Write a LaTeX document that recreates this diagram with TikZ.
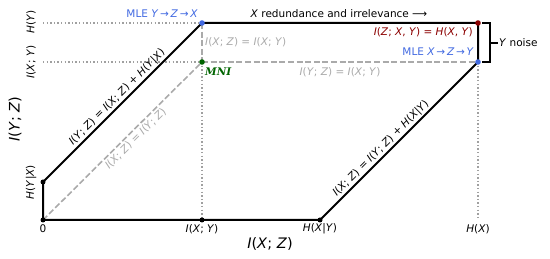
\documentclass[tikz,border=0pt]{standalone}
\usepackage{fontspec}
\setmainfont{DejaVu Sans}
\newfontfamily\serifbi{DejaVu Serif}
\definecolor{mleblue}{RGB}{65,105,225}
\definecolor{mlered}{RGB}{139,0,0}
\definecolor{mnigreen}{RGB}{0,100,0}
\definecolor{lgray}{RGB}{170,170,170}
\definecolor{dgray}{RGB}{160,160,160}
\newcommand\mv[1]{\textit{#1}}
\begin{document}
\begin{tikzpicture}[x=1pt,y=-1pt,
  every node/.style={font=\fontsize{10.5}{12}\selectfont, inner sep=1pt},
  axislabel/.style={font=\fontsize{14.5}{16}\selectfont},
  bound/.style={line width=2pt, line join=miter},
  dotline/.style={dgray, line width=1.4pt, dash pattern=on 1.4pt off 2.2pt},
  dashline/.style={lgray, line width=1.6pt, dash pattern=on 6pt off 2.6pt},
  brk/.style={line width=1.4pt}]
\useasboundingbox (0,0) rectangle (550,259);
\coordinate (O) at (43,220);
\coordinate (HYX) at (43,182);
\coordinate (TL) at (202,23);
\coordinate (MNI) at (202,62);
\coordinate (TR) at (478,23);
\coordinate (BR) at (478,62);
\coordinate (HXY) at (320,220);
\coordinate (IXY) at (202,220);
\coordinate (HX) at (478,220);
\coordinate (LY) at (43,23);
\coordinate (LI) at (43,62);
\coordinate (b1) at (482,23);
\coordinate (b2) at (490,23);
\coordinate (b3) at (490,62);
\coordinate (b4) at (482,62);
\coordinate (b5) at (490,43);
\coordinate (b6) at (498,43);
% dotted guides
\draw[dotline] (LY) -- (TL);
\draw[dotline] (LI) -- (MNI);
\draw[dotline] (MNI) -- (IXY);
\draw[dotline] (BR) -- (HX);
% dashed gray
\draw[dashline] (O) -- (MNI) node[pos=0.55, sloped, below=1pt, lgray] {\mv{I}(\mv{X}; \mv{Z}) = \mv{I}(\mv{Y}; \mv{Z})};
\draw[dashline] (TL) -- (MNI);
\draw[dashline] (MNI) -- (BR);
% boundary
\draw[bound] (O) -- (HYX) -- (TL) -- (TR) -- (BR) -- (HXY) -- cycle;
\path (HYX) -- (TL) node[midway, sloped, above=1pt] {\mv{I}(\mv{Y}; \mv{Z}) = \mv{I}(\mv{X}; \mv{Z}) + \mv{H}(\mv{Y}|\mv{X})};
\path (HXY) -- (BR) node[pos=0.42, sloped, above=1pt] {\mv{I}(\mv{X}; \mv{Z}) = \mv{I}(\mv{Y}; \mv{Z}) + \mv{H}(\mv{X}|\mv{Y})};
% bracket
\draw[brk] (b1) -- (b2) -- (b3) -- (b4);
\draw[brk] (b5) -- (b6);
\node[anchor=west] (noise) at (b6) {\mv{Y} noise};
% points
\fill (O) circle (2.5pt);
\fill (HYX) circle (2.5pt);
\fill (IXY) circle (2.5pt);
\fill (HXY) circle (2.5pt);
\fill[mleblue] (TL) circle (2.8pt);
\fill[mleblue] (BR) circle (2.8pt);
\fill[mlered] (TR) circle (2.8pt);
\fill[mnigreen] (MNI) circle (2.8pt);
% labels
\node[mleblue, anchor=east] (mle1) at (199,14) {MLE \mv{Y}\,→\,\mv{Z}\,→\,\mv{X}};
\node (red) at (339,14) {\mv{X} redundance and irrelevance ⟶};
\node[mlered, anchor=east] (ixy) at (474,32) {\mv{I}(\mv{Z}; \mv{X}, \mv{Y}) = \mv{H}(\mv{X}, \mv{Y})};
\node[mleblue, anchor=east] (mle2) at (475,52) {MLE \mv{X}\,→\,\mv{Z}\,→\,\mv{Y}};
\node[lgray, anchor=west] (g1) at (204,42) {\mv{I}(\mv{X}; \mv{Z}) = \mv{I}(\mv{X}; \mv{Y})};
\node[lgray] (g2) at (340,72) {\mv{I}(\mv{Y}; \mv{Z}) = \mv{I}(\mv{X}; \mv{Y})};
\node[mnigreen, anchor=west] (mni) at (204,72) {\serifbi\bfseries\itshape MNI};
% axis ticks
\node (t0) at (43,229) {0};
\node (t1) at (202,229) {\mv{I}(\mv{X}; \mv{Y})};
\node (t2) at (320,229) {\mv{H}(\mv{X}|\mv{Y})};
\node (t3) at (478,229) {\mv{H}(\mv{X})};
\node[rotate=90] (v1) at (31,22) {\mv{H}(\mv{Y})};
\node[rotate=90] (v2) at (31,62) {\mv{I}(\mv{X}; \mv{Y})};
\node[rotate=90] (v3) at (31,182) {\mv{H}(\mv{Y}|\mv{X})};
\node[axislabel] (ax) at (270,244) {\mv{I}(\mv{X}; \mv{Z})};
\node[axislabel, rotate=90] (ay) at (15,119) {\mv{I}(\mv{Y}; \mv{Z})};
\end{tikzpicture}
\end{document}
